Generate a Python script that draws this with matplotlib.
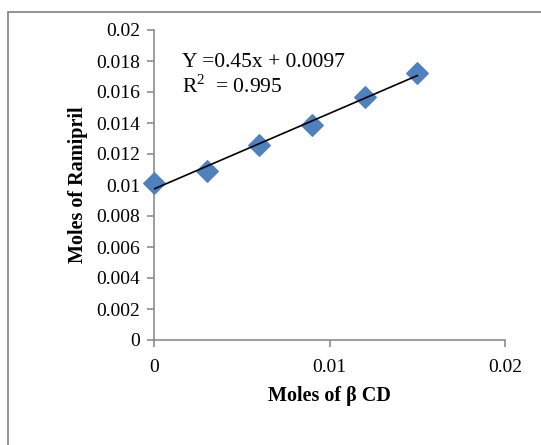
import numpy as np
import matplotlib.pyplot as plt
from matplotlib.patches import Rectangle

# datos
moles_bcd = [0, 0.003, 0.006, 0.009, 0.012, 0.015]
moles_ramipril = [0.0101, 0.0109, 0.0126, 0.0139, 0.0157, 0.0172]
x_ticks = [0, 0.01, 0.02]
y_ticks = [0, 0.002, 0.004, 0.006, 0.008, 0.01, 0.012, 0.014, 0.016, 0.018, 0.02]

plt.rcParams['font.family'] = ['Liberation Serif', 'DejaVu Serif']
plt.rcParams['mathtext.fontset'] = 'custom'
plt.rcParams['mathtext.rm'] = 'Liberation Serif'

fig = plt.figure(figsize=(5.41, 4.45), dpi=100)
ax = fig.add_axes([154/541, 1 - 340/445, (505-154)/541, (340-30)/445])

# marco exterior (sale por la derecha y abajo como en el original)
fig.patches.append(Rectangle((8/541, -0.05), 1.0, 1 - 12/445 + 0.05, transform=fig.transFigure,
                             fill=False, edgecolor='#808080', linewidth=1.2))

ax.scatter(moles_bcd, moles_ramipril, marker='D', s=120, color='#4f81bd', zorder=3, clip_on=False)

# linea de tendencia
m, b = np.polyfit(moles_bcd, moles_ramipril, 1)
xs = np.array([moles_bcd[0], moles_bcd[-1]])
ax.plot(xs, m * xs + b, color='black', linewidth=1.2, zorder=4)

ax.text(0.0016, 0.0179, 'Y =0.45x + 0.0097', fontsize=15.5, va='center')
ax.text(0.0016, 0.01635, 'R$^2$  = 0.995', fontsize=15.5, va='center')

ax.set_xlim(0, 0.02)
ax.set_ylim(0, 0.02)
ax.set_xticks(x_ticks)
ax.set_xticklabels(['0', '0.01', '0.02'])
ax.set_yticks(y_ticks)
ax.set_yticklabels(['0', '0.002', '0.004', '0.006', '0.008', '0.01', '0.012',
                    '0.014', '0.016', '0.018', '0.02'])

for s in ['top', 'right']:
    ax.spines[s].set_visible(False)
for s in ['left', 'bottom']:
    ax.spines[s].set_color('#8c8c8c')
    ax.spines[s].set_linewidth(1.2)
ax.tick_params(axis='both', color='#8c8c8c', width=1.2, length=5, labelsize=14)
ax.tick_params(axis='x', pad=9)
ax.tick_params(axis='y', pad=5)

ax.set_xlabel('Moles of β CD', fontsize=14.5, fontweight='bold', labelpad=7)
ax.set_ylabel('Moles of Ramipril', fontsize=14.5, fontweight='bold', labelpad=6)

fig.savefig('out.png', dpi=100)
